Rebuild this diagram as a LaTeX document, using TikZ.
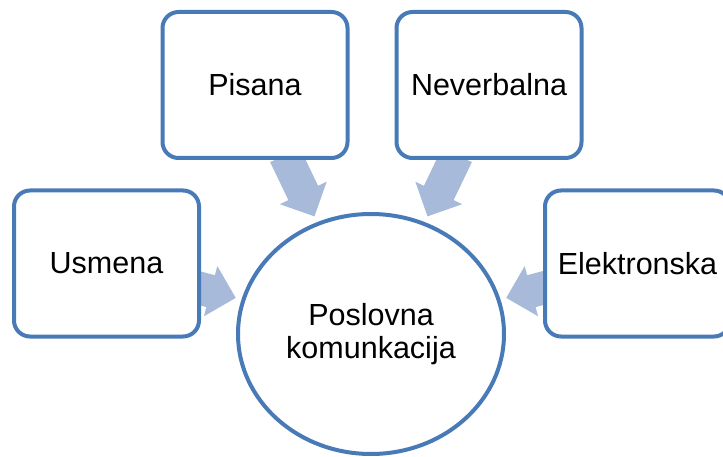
\documentclass[tikz,border=0pt]{standalone}
\usepackage{fontspec}
\setmainfont{Liberation Sans}
\usetikzlibrary{calc,shapes.geometric,backgrounds}
\definecolor{boxline}{RGB}{72,122,183}
\definecolor{arrowfill}{RGB}{168,186,217}
\newcommand{\blockarr}[2]{%
  \coordinate (#1h) at ($(#2)!26pt!(#1)$);
  \fill[arrowfill] ($(#1)!16.5pt!90:(#2)$) -- ($(#1h)!16.5pt!90:(#2)$)
    -- ($(#1h)!26pt!90:(#2)$) -- (#2) -- ($(#1h)!26pt!-90:(#2)$)
    -- ($(#1h)!16.5pt!-90:(#2)$) -- ($(#1)!16.5pt!-90:(#2)$) -- cycle;
}
\begin{document}
\begin{tikzpicture}[x=1pt,y=-1pt,
  catbox/.style={draw=boxline, line width=4pt, fill=white, rounded corners=16pt,
    minimum width=185pt, minimum height=146pt, inner sep=0pt,
    font=\fontsize{30.5}{34}\selectfont},
  hub/.style={ellipse, draw=boxline, line width=4pt, fill=white,
    minimum width=266pt, minimum height=240pt, inner sep=0pt, align=center,
    font=\fontsize{30.5}{33.5}\selectfont}]
\useasboundingbox (0,0) rectangle (723,457);
\clip (0,0) rectangle (723,457);
\node[catbox] (pis) at (255,85) {Pisana};
\node[catbox] (nev) at (489,85) {Neverbalna};
\node[catbox] (usm) at (106.5,263.5) {Usmena};
\node[catbox] (ele) at (637.5,263.5) {Elektronska};
\node[hub] (hub) at (371,334) {Poslovna\\komunkacija};
\begin{scope}[on background layer]
  \coordinate (ps) at (285,155);
  \coordinate (pistip) at ($(hub.center)!130.5pt!(ps)$);
  \blockarr{ps}{pistip}
  \coordinate (ns) at (457,155);
  \coordinate (nevtip) at ($(hub.center)!130.5pt!(ns)$);
  \blockarr{ns}{nevtip}
  \coordinate (us) at (195,287);
  \coordinate (usmtip) at ($(hub.center)!140pt!(us)$);
  \blockarr{us}{usmtip}
  \coordinate (es) at (547,287);
  \coordinate (eletip) at ($(hub.center)!140pt!(es)$);
  \blockarr{es}{eletip}
\end{scope}
\end{tikzpicture}
\end{document}
